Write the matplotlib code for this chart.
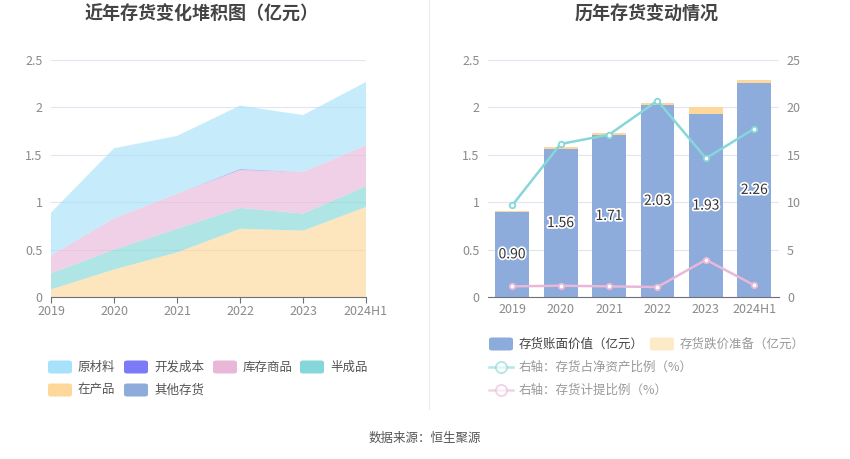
import matplotlib
matplotlib.use("Agg")
import matplotlib.pyplot as plt
import matplotlib.patheffects as pe
from matplotlib.patches import FancyBboxPatch
from matplotlib.lines import Line2D
import numpy as np

plt.rcParams['font.family'] = ['Noto Sans CJK SC', 'DejaVu Sans']

# data
years = ['2019', '2020', '2021', '2022', '2023', '2024H1']
raw_material = [0.45, 0.74, 0.61, 0.67, 0.60, 0.67]      # 原材料
dev_cost = [0.0, 0.0, 0.0, 0.01, 0.0, 0.0]               # 开发成本
goods = [0.19, 0.33, 0.37, 0.40, 0.44, 0.43]             # 库存商品
semi = [0.17, 0.21, 0.25, 0.22, 0.18, 0.22]              # 半成品
wip = [0.08, 0.29, 0.47, 0.72, 0.70, 0.95]               # 在产品
other = [0.0, 0.0, 0.0, 0.0, 0.0, 0.0]                   # 其他存货

book_value = [0.90, 1.56, 1.71, 2.03, 1.93, 2.26]
provision = [0.010, 0.019, 0.019, 0.021, 0.078, 0.028]
ratio_net_assets = [9.66, 16.15, 17.13, 20.72, 14.64, 17.77]
ratio_provision = [1.12, 1.19, 1.12, 1.05, 3.93, 1.23]

c_raw = '#a8e1fa'
c_dev = '#7b7bf7'
c_goods = '#e9b8d9'
c_semi = '#86d7d9'
c_wip = '#fdd89a'
c_other = '#8dabdb'
grid_c = '#e0e6f1'
tick_c = '#8a8a8a'

fig = plt.figure(figsize=(8.5, 4.59), dpi=100)

# ---- left: stacked area
ax1 = fig.add_axes([0.06, 0.353, 0.3706, 0.516])
x = np.arange(len(years))
ax1.stackplot(x, other, wip, semi, goods, dev_cost, raw_material,
              colors=[c_other, c_wip, c_semi, c_goods, c_dev, c_raw],
              alpha=0.65, linewidth=0)
ax1.set_xlim(0, len(years) - 1)
ax1.set_ylim(0, 2.5)
ax1.set_yticks([0, 0.5, 1, 1.5, 2, 2.5])
ax1.set_yticklabels(['0', '0.5', '1', '1.5', '2', '2.5'])
ax1.set_xticks(x)
ax1.set_xticklabels(years)
ax1.grid(axis='y', color=grid_c, linewidth=0.8)
ax1.set_axisbelow(True)
for s in ['top', 'right', 'left']:
    ax1.spines[s].set_visible(False)
ax1.spines['bottom'].set_color('#6e7079')
ax1.tick_params(axis='y', length=0, colors=tick_c, labelsize=9, pad=6)
ax1.tick_params(axis='x', length=4, color='#6e7079', colors=tick_c, labelsize=9, pad=2)
fig.text(0.237, 0.97, '近年存货变化堆积图（亿元）', ha='center', va='center',
         fontsize=13, fontweight='bold', color='#444444')

# ---- right: bars + lines
ax2 = fig.add_axes([0.574, 0.353, 0.342, 0.516])
ax2.bar(x, book_value, width=0.7, color=c_other, zorder=2)
ax2.bar(x, provision, width=0.7, bottom=book_value, color=c_wip, zorder=2)
for i, v in enumerate(book_value):
    ax2.text(i, v / 2, f'{v:.2f}', ha='center', va='center', fontsize=10,
             color='#333333', zorder=5,
             path_effects=[pe.withStroke(linewidth=2.5, foreground='white')])
ax2.set_xlim(-0.5, len(years) - 0.5)
ax2.set_ylim(0, 2.5)
ax2.set_yticks([0, 0.5, 1, 1.5, 2, 2.5])
ax2.set_yticklabels(['0', '0.5', '1', '1.5', '2', '2.5'])
ax2.set_xticks(x)
ax2.set_xticklabels(years)
ax2.grid(axis='y', color=grid_c, linewidth=0.8)
ax2.set_axisbelow(True)
for s in ['top', 'right', 'left']:
    ax2.spines[s].set_visible(False)
ax2.spines['bottom'].set_color('#6e7079')
ax2.tick_params(axis='y', length=0, colors=tick_c, labelsize=9, pad=6)
ax2.tick_params(axis='x', length=0, colors=tick_c, labelsize=9, pad=4)

ax3 = ax2.twinx()
ax3.plot(x, ratio_net_assets, color='#86d7d9', linewidth=1.8, marker='o',
         markersize=4, markerfacecolor='white', markeredgewidth=1.3, zorder=4)
ax3.plot(x, ratio_provision, color='#e9b8d9', linewidth=1.8, marker='o',
         markersize=4, markerfacecolor='white', markeredgewidth=1.3, zorder=4)
ax3.set_ylim(0, 25)
ax3.set_yticks([0, 5, 10, 15, 20, 25])
for s in ['top', 'right', 'left', 'bottom']:
    ax3.spines[s].set_visible(False)
ax3.tick_params(axis='y', length=0, colors=tick_c, labelsize=9, pad=6)
fig.text(0.761, 0.97, '历年存货变动情况', ha='center', va='center',
         fontsize=13, fontweight='bold', color='#444444')

# divider
fig.add_artist(Line2D([0.505, 0.505], [0.11, 1.0], color='#eeeeee', linewidth=0.8))


def legend_patch(px, py, color, label, alpha=1.0, tcolor='#555555'):
    w, h = 24 / 850, 13 / 459
    fig.add_artist(FancyBboxPatch((px / 850, 1 - py / 459 - h / 2), w, h,
                                  boxstyle='round,pad=0,rounding_size=0.004',
                                  transform=fig.transFigure, color=color,
                                  alpha=alpha, linewidth=0))
    fig.text((px + 30) / 850, 1 - py / 459, label, ha='left', va='center',
             fontsize=9, color=tcolor)


def legend_line(px, py, color, label):
    y = 1 - py / 459
    fig.add_artist(Line2D([px / 850, (px + 24) / 850], [y, y], color=color,
                          linewidth=1.8, alpha=0.6, transform=fig.transFigure))
    fig.add_artist(Line2D([(px + 12) / 850], [y], color=color, marker='o',
                          markersize=8, markerfacecolor='white', alpha=0.6,
                          markeredgewidth=1.4, transform=fig.transFigure))
    fig.text((px + 30) / 850, y, label, ha='left', va='center',
             fontsize=9, color='#999999')


legend_patch(48, 367, c_raw, '原材料')
legend_patch(124, 367, c_dev, '开发成本')
legend_patch(213, 367, c_goods, '库存商品')
legend_patch(300, 367, c_semi, '半成品')
legend_patch(48, 390, c_wip, '在产品')
legend_patch(124, 390, c_other, '其他存货')

legend_patch(489, 344, c_other, '存货账面价值（亿元）', tcolor='#444444')
legend_patch(650, 344, '#fdebc8', '存货跌价准备（亿元）', tcolor='#999999')
legend_line(489, 367, '#86d7d9', '右轴：存货占净资产比例（%）')
legend_line(489, 390, '#e9b8d9', '右轴：存货计提比例（%）')

fig.text(0.5, 1 - 438 / 459, '数据来源：恒生聚源', ha='center', va='center',
         fontsize=9, color='#555555')

fig.savefig('out.png', dpi=100)
